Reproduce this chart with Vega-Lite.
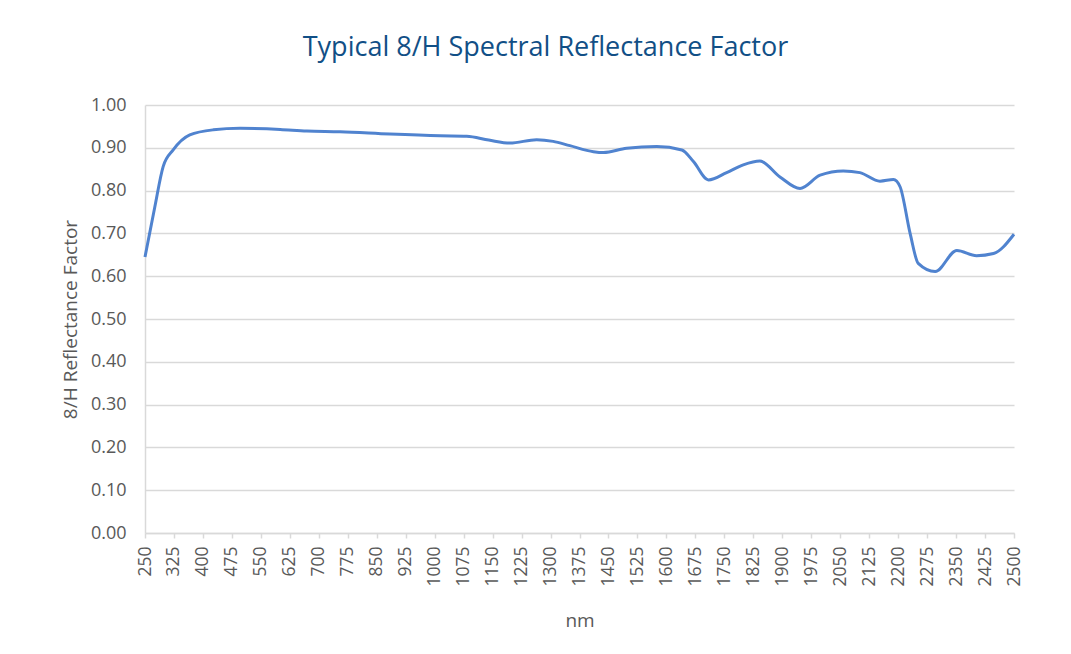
{
  "$schema": "https://vega.github.io/schema/vega-lite/v6.json",
  "autosize": "none",
  "width": 869,
  "height": 428,
  "padding": {"left": 145, "top": 105, "right": 57, "bottom": 121},
  "background": "white",
  "title": {
    "text": "Typical 8/H Spectral Reflectance Factor",
    "font": "Open Sans",
    "fontSize": 27,
    "fontWeight": "normal",
    "color": "#114f86",
    "anchor": "middle",
    "dx": -34,
    "offset": 34
  },
  "data": {
    "values": [
      {"nm": 250, "r": 0.645},
      {"nm": 275, "r": 0.76},
      {"nm": 297, "r": 0.856},
      {"nm": 323, "r": 0.895},
      {"nm": 366, "r": 0.93},
      {"nm": 427, "r": 0.942},
      {"nm": 496, "r": 0.9455},
      {"nm": 600, "r": 0.943},
      {"nm": 669, "r": 0.939},
      {"nm": 755, "r": 0.9375},
      {"nm": 884, "r": 0.932},
      {"nm": 1014, "r": 0.928},
      {"nm": 1083, "r": 0.927},
      {"nm": 1140, "r": 0.918},
      {"nm": 1195, "r": 0.911},
      {"nm": 1264, "r": 0.919},
      {"nm": 1307, "r": 0.915},
      {"nm": 1350, "r": 0.905},
      {"nm": 1411, "r": 0.891},
      {"nm": 1437, "r": 0.889},
      {"nm": 1497, "r": 0.899},
      {"nm": 1575, "r": 0.903},
      {"nm": 1640, "r": 0.895},
      {"nm": 1670, "r": 0.868},
      {"nm": 1709, "r": 0.825},
      {"nm": 1756, "r": 0.842},
      {"nm": 1799, "r": 0.86},
      {"nm": 1842, "r": 0.869},
      {"nm": 1894, "r": 0.832},
      {"nm": 1946, "r": 0.805},
      {"nm": 1998, "r": 0.836},
      {"nm": 2058, "r": 0.846},
      {"nm": 2101, "r": 0.842},
      {"nm": 2153, "r": 0.822},
      {"nm": 2188, "r": 0.826},
      {"nm": 2205, "r": 0.809},
      {"nm": 2231, "r": 0.7},
      {"nm": 2252, "r": 0.63},
      {"nm": 2296, "r": 0.611},
      {"nm": 2352, "r": 0.66},
      {"nm": 2403, "r": 0.648},
      {"nm": 2447, "r": 0.653},
      {"nm": 2500, "r": 0.698}
    ]
  },
  "mark": {"type": "line", "color": "#5083cf", "strokeWidth": 3, "interpolate": "monotone"},
  "encoding": {
    "x": {
      "field": "nm",
      "type": "quantitative",
      "scale": {"domain": [250, 2500], "nice": false, "zero": false},
      "axis": {
        "title": "nm",
        "values": [250, 325, 400, 475, 550, 625, 700, 775, 850, 925, 1000, 1075, 1150, 1225, 1300, 1375, 1450, 1525, 1600, 1675, 1750, 1825, 1900, 1975, 2050, 2125, 2200, 2275, 2350, 2425, 2500],
        "format": "d",
        "labelAngle": 270,
        "labelAlign": "right",
        "labelBaseline": "middle",
        "labelFont": "Open Sans",
        "labelFontSize": 17.5,
        "labelColor": "#595959",
        "labelPadding": 8,
        "labelOverlap": false,
        "labelFlush": false,
        "grid": false,
        "ticks": true,
        "tickSize": 5,
        "tickColor": "#d9d9d9",
        "tickWidth": 1.5,
        "domainColor": "#d9d9d9",
        "domainWidth": 1.5,
        "titleFont": "Open Sans",
        "titleFontSize": 19,
        "titleFontWeight": "normal",
        "titleColor": "#595959",
        "titlePadding": 25
      }
    },
    "y": {
      "field": "r",
      "type": "quantitative",
      "scale": {"domain": [0, 1], "nice": false},
      "axis": {
        "title": "8/H Reflectance Factor",
        "values": [0, 0.1, 0.2, 0.3, 0.4, 0.5, 0.6, 0.7, 0.8, 0.9, 1.0],
        "format": ".2f",
        "labelFont": "Open Sans",
        "labelFontSize": 18,
        "labelColor": "#595959",
        "labelPadding": 19,
        "ticks": false,
        "grid": true,
        "gridColor": "#d9d9d9",
        "gridWidth": 1.5,
        "domainColor": "#d9d9d9",
        "domainWidth": 1.5,
        "titleFont": "Open Sans",
        "titleFontSize": 19,
        "titleFontWeight": "normal",
        "titleColor": "#595959",
        "titlePadding": 10
      }
    }
  },
  "config": {"view": {"stroke": null}}
}
